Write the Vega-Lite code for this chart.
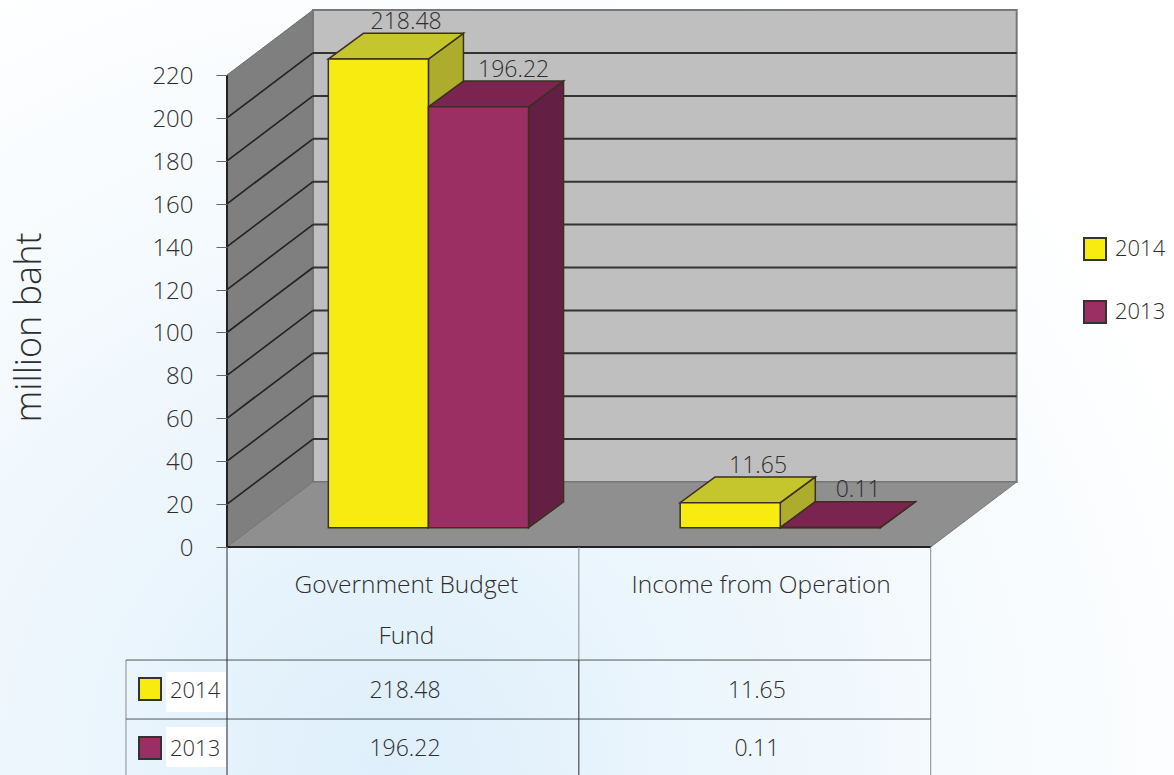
{"$schema":"https://vega.github.io/schema/vega-lite/v6.json","width":947,"height":775,"autosize":{"type":"none"},"padding":{"left":227,"top":0,"right":0,"bottom":0},"background":"white","config":{"view":{"stroke":null},"text":{"font":"Open Sans","fontWeight":300,"color":"#2e2e2e"}},
"data":{"values":[{"category":"Government Budget Fund","year":"2014","value":218.48},{"category":"Government Budget Fund","year":"2013","value":196.22},{"category":"Income from Operation","year":"2014","value":11.65},{"category":"Income from Operation","year":"2013","value":0.11}]},
"transform":[{"calculate":"indexof(['Government Budget Fund','Income from Operation'],datum.category)","as":"cat"},{"calculate":"indexof(['2014','2013'],datum.year)","as":"yi"},{"calculate":"datum.cat+0.288+datum.yi*0.2845","as":"u0"},{"calculate":"datum.u0+0.2845","as":"u1"},{"calculate":"9+datum.value","as":"topv"}],
"resolve":{"scale":{"color":"independent"},"axis":{"y":"independent"}},
"layer":[
{"data":{"values":[{"x":-0.6452,"x2":2.6915,"y":-106.29,"y2":255}]},"mark":{"type":"rect","fill":{"gradient":"radial","x1":0.33,"y1":0.82,"r1":0,"x2":0.33,"y2":0.82,"r2":0.75,"stops":[{"offset":0,"color":"#deeffb"},{"offset":0.45,"color":"#eff7fd"},{"offset":1,"color":"#ffffff"}]}},"encoding":{"x":{"field":"x","type":"quantitative","axis":null,"scale":{"domain":[0,2.6915],"nice":false,"zero":false}},"x2":{"field":"x2"},"y":{"field":"y","type":"quantitative","scale":{"domain":[-106.29,255],"nice":false,"zero":false},"title":"million baht","axis":{"values":[0,20,40,60,80,100,120,140,160,180,200,220],"zindex":1,"grid":false,"domain":false,"tickSize":11,"tickColor":"#666","tickWidth":1,"labelPadding":23,"labelOffset":1.5,"labelFont":"Open Sans","labelFontWeight":300,"labelFontSize":24,"labelColor":"#2e2e2e","labelFlush":false,"labelOverlap":false,"titleFont":"Open Sans","titleFontWeight":300,"titleFontSize":36,"titleColor":"#2e2e2e","titleAngle":-90,"titleX":-198,"titleY":327,"titleAnchor":"middle","titleBaseline":"middle"}},"y2":{"field":"y2"}}},
{"data":{"values":[{"x":0,"lo":0,"hi":220},{"x":0.2444,"lo":30.3,"hi":250.3}]},"mark":{"type":"area","fill":"#7f7f7f","stroke":"#6a6a6a","strokeWidth":1},"encoding":{"x":{"field":"x","type":"quantitative","axis":null,"scale":{"domain":[0,2.6915],"nice":false,"zero":false}},"y":{"field":"lo","type":"quantitative","axis":null,"scale":{"domain":[-106.29,255],"nice":false,"zero":false}},"y2":{"field":"hi"}}},
{"data":{"values":[{"x":0.2444,"x2":2.2444,"y":30.3,"y2":250.3}]},"mark":{"type":"rect","fill":"#bfbfbf","stroke":"#777","strokeWidth":2},"encoding":{"x":{"field":"x","type":"quantitative","axis":null,"scale":{"domain":[0,2.6915],"nice":false,"zero":false}},"x2":{"field":"x2"},"y":{"field":"y","type":"quantitative","axis":null,"scale":{"domain":[-106.29,255],"nice":false,"zero":false}},"y2":{"field":"y2"}}},
{"data":{"values":[{"tick":20,"back":50.3},{"tick":40,"back":70.3},{"tick":60,"back":90.3},{"tick":80,"back":110.3},{"tick":100,"back":130.3},{"tick":120,"back":150.3},{"tick":140,"back":170.3},{"tick":160,"back":190.3},{"tick":180,"back":210.3},{"tick":200,"back":230.3}]},"mark":{"type":"rule","color":"#333","strokeWidth":2},"encoding":{"x":{"datum":0.2444,"type":"quantitative","axis":null,"scale":{"domain":[0,2.6915],"nice":false,"zero":false}},"x2":{"datum":2.2444},"y":{"field":"back","type":"quantitative","axis":null,"scale":{"domain":[-106.29,255],"nice":false,"zero":false}}}},
{"data":{"values":[{"tick":20,"back":50.3},{"tick":40,"back":70.3},{"tick":60,"back":90.3},{"tick":80,"back":110.3},{"tick":100,"back":130.3},{"tick":120,"back":150.3},{"tick":140,"back":170.3},{"tick":160,"back":190.3},{"tick":180,"back":210.3},{"tick":200,"back":230.3}]},"mark":{"type":"rule","color":"#222","strokeWidth":1.6},"encoding":{"x":{"datum":0,"type":"quantitative","axis":null,"scale":{"domain":[0,2.6915],"nice":false,"zero":false}},"x2":{"datum":0.2444},"y":{"field":"tick","type":"quantitative","axis":null,"scale":{"domain":[-106.29,255],"nice":false,"zero":false}},"y2":{"field":"back"}}},
{"data":{"values":[{"y":0,"a":0,"b":2},{"y":30.3,"a":0.2444,"b":2.2444}]},"mark":{"type":"area","orient":"horizontal","fill":"#8f8f8f","stroke":"#777","strokeWidth":1},"encoding":{"y":{"field":"y","type":"quantitative","axis":null,"scale":{"domain":[-106.29,255],"nice":false,"zero":false}},"x":{"field":"a","type":"quantitative","axis":null,"scale":{"domain":[0,2.6915],"nice":false,"zero":false}},"x2":{"field":"b"}}},
{"data":{"values":[{"x":0,"x2":0,"y":0,"y2":220},{"x":0,"x2":2,"y":0,"y2":0}]},"mark":{"type":"rule","color":"#222","strokeWidth":2},"encoding":{"x":{"field":"x","type":"quantitative","axis":null,"scale":{"domain":[0,2.6915],"nice":false,"zero":false}},"x2":{"field":"x2"},"y":{"field":"y","type":"quantitative","axis":null,"scale":{"domain":[-106.29,255],"nice":false,"zero":false}},"y2":{"field":"y2"}}},
{"transform":[{"calculate":"[0,1]","as":"d"},{"flatten":["d"]},{"calculate":"datum.u1+datum.d*0.0995","as":"sx"},{"calculate":"9+datum.d*12","as":"lo"},{"calculate":"datum.topv+datum.d*12","as":"hi"}],"mark":{"type":"area","stroke":"#3a3020","strokeWidth":1.5},"encoding":{"x":{"field":"sx","type":"quantitative","axis":null,"scale":{"domain":[0,2.6915],"nice":false,"zero":false}},"y":{"field":"lo","type":"quantitative","axis":null,"scale":{"domain":[-106.29,255],"nice":false,"zero":false}},"y2":{"field":"hi"},"detail":[{"field":"category"},{"field":"year"}],"color":{"field":"year","type":"nominal","legend":null,"scale":{"domain":["2014","2013"],"range":["#adac2c","#632044"]}}}},
{"transform":[{"calculate":"[0,1]","as":"d"},{"flatten":["d"]},{"calculate":"datum.u0+datum.d*0.0995","as":"ta"},{"calculate":"datum.u1+datum.d*0.0995","as":"tb"},{"calculate":"datum.topv+datum.d*12","as":"ty"}],"mark":{"type":"area","orient":"horizontal","stroke":"#3a3020","strokeWidth":1.5},"encoding":{"y":{"field":"ty","type":"quantitative","axis":null,"scale":{"domain":[-106.29,255],"nice":false,"zero":false}},"x":{"field":"ta","type":"quantitative","axis":null,"scale":{"domain":[0,2.6915],"nice":false,"zero":false}},"x2":{"field":"tb"},"detail":[{"field":"category"},{"field":"year"}],"color":{"field":"year","type":"nominal","legend":null,"scale":{"domain":["2014","2013"],"range":["#c5c62e","#7c2450"]}}}},
{"transform":[{"calculate":"9","as":"base"}],"mark":{"type":"rect","stroke":"#3a3020","strokeWidth":1.5},"encoding":{"x":{"field":"u0","type":"quantitative","axis":null,"scale":{"domain":[0,2.6915],"nice":false,"zero":false}},"x2":{"field":"u1"},"y":{"field":"topv","type":"quantitative","axis":null,"scale":{"domain":[-106.29,255],"nice":false,"zero":false}},"y2":{"field":"base"},"color":{"field":"year","type":"nominal","scale":{"domain":["2014","2013"],"range":["#f7eb10","#9b2f64"]},"legend":{"orient":"none","legendX":856,"legendY":237,"title":null,"symbolType":"square","symbolSize":484,"symbolStrokeColor":"#333","symbolStrokeWidth":2,"labelFont":"Open Sans","labelFontWeight":300,"labelFontSize":22,"labelColor":"#2e2e2e","rowPadding":33,"labelOffset":8}}}},
{"transform":[{"calculate":"(datum.u0+datum.u1)/2+(datum.cat==0&&datum.yi==1?0.1:0.079)","as":"lx"},{"calculate":"datum.topv+17.3","as":"ly"}],"mark":{"type":"text","fontSize":23,"baseline":"middle"},"encoding":{"x":{"field":"lx","type":"quantitative","axis":null,"scale":{"domain":[0,2.6915],"nice":false,"zero":false}},"y":{"field":"ly","type":"quantitative","axis":null,"scale":{"domain":[-106.29,255],"nice":false,"zero":false}},"text":{"field":"value","type":"quantitative","format":".2f"}}},
{"data":{"values":[{"x":-0.2871,"from":-52.7,"to":-106.29},{"x":1,"from":0,"to":-52.7},{"x":2,"from":0,"to":-106.29}]},"mark":{"type":"rule","color":"#8a8a8a","strokeWidth":1},"encoding":{"x":{"field":"x","type":"quantitative","axis":null,"scale":{"domain":[0,2.6915],"nice":false,"zero":false}},"y":{"field":"from","type":"quantitative","axis":null,"scale":{"domain":[-106.29,255],"nice":false,"zero":false}},"y2":{"field":"to"}}},
{"data":{"values":[{"y":-52.7},{"y":-80.2}]},"mark":{"type":"rule","color":"#555","strokeWidth":1},"encoding":{"x":{"datum":-0.2871,"type":"quantitative","axis":null,"scale":{"domain":[0,2.6915],"nice":false,"zero":false}},"x2":{"datum":2},"y":{"field":"y","type":"quantitative","axis":null,"scale":{"domain":[-106.29,255],"nice":false,"zero":false}}}},
{"data":{"values":[{"x":0,"from":0,"to":-106.29},{"x":1,"from":-52.7,"to":-106.29}]},"mark":{"type":"rule","color":"#2a2a2a","strokeWidth":1},"encoding":{"x":{"field":"x","type":"quantitative","axis":null,"scale":{"domain":[0,2.6915],"nice":false,"zero":false}},"y":{"field":"from","type":"quantitative","axis":null,"scale":{"domain":[-106.29,255],"nice":false,"zero":false}},"y2":{"field":"to"}}},
{"data":{"values":[{"category":"Government Budget\nFund","x":0.51},{"category":"Income from Operation","x":1.518}]},"mark":{"type":"text","fontSize":24.5,"baseline":"top","lineBreak":"\n","lineHeight":51},"encoding":{"x":{"field":"x","type":"quantitative","axis":null,"scale":{"domain":[0,2.6915],"nice":false,"zero":false}},"y":{"datum":-12.7,"type":"quantitative","axis":null,"scale":{"domain":[-106.29,255],"nice":false,"zero":false}},"text":{"field":"category"}}},
{"transform":[{"calculate":"datum.cat+0.506","as":"tx"},{"calculate":"-66.9-datum.yi*27.2","as":"ty"}],"mark":{"type":"text","fontSize":23,"baseline":"middle"},"encoding":{"x":{"field":"tx","type":"quantitative","axis":null,"scale":{"domain":[0,2.6915],"nice":false,"zero":false}},"y":{"field":"ty","type":"quantitative","axis":null,"scale":{"domain":[-106.29,255],"nice":false,"zero":false}},"text":{"field":"value","type":"quantitative","format":".2f"}}},
{"data":{"values":[{"year":"2014","y":-58.3,"y2":-76.9},{"year":"2013","y":-83.9,"y2":-102.6}]},"mark":{"type":"rect","fill":"white"},"encoding":{"x":{"datum":-0.173,"type":"quantitative","axis":null,"scale":{"domain":[0,2.6915],"nice":false,"zero":false}},"x2":{"datum":-0.003},"y":{"field":"y","type":"quantitative","axis":null,"scale":{"domain":[-106.29,255],"nice":false,"zero":false}},"y2":{"field":"y2"}}},
{"data":{"values":[{"year":"2014","y":-66.2},{"year":"2013","y":-93.7}]},"mark":{"type":"point","shape":"square","filled":true,"size":484,"stroke":"#333","strokeWidth":2,"opacity":1},"encoding":{"x":{"datum":-0.2188,"type":"quantitative","axis":null,"scale":{"domain":[0,2.6915],"nice":false,"zero":false}},"y":{"field":"y","type":"quantitative","axis":null,"scale":{"domain":[-106.29,255],"nice":false,"zero":false}},"color":{"field":"year","type":"nominal","legend":null,"scale":{"domain":["2014","2013"],"range":["#f7eb10","#9b2f64"]}}}},
{"data":{"values":[{"year":"2014","y":-66.9},{"year":"2013","y":-94.2}]},"mark":{"type":"text","fontSize":22,"align":"left","baseline":"middle"},"encoding":{"x":{"datum":-0.162,"type":"quantitative","axis":null,"scale":{"domain":[0,2.6915],"nice":false,"zero":false}},"y":{"field":"y","type":"quantitative","axis":null,"scale":{"domain":[-106.29,255],"nice":false,"zero":false}},"text":{"field":"year"}}}
]}
